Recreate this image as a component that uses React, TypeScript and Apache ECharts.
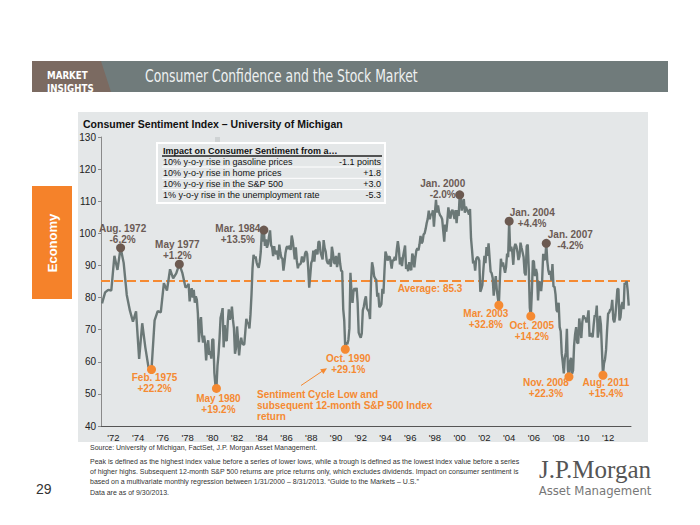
import React, { useEffect, useRef } from "react";
import * as echarts from "echarts";

// ---------- DATA ----------
// Quarterly readings (Feb, May, Aug, Nov) 1971-1977
const quarterlyStartYear = 1971;
const quarterlyStartMonth = 2;
const sentimentQuarterly1971to1977 = [
  78.2, 81.6, 82.4, 82.2,
  93.0, 88.6, 95.5, 90.8,
  80.8, 76.0, 72.5, 75.7,
  60.9, 72.0, 64.5, 58.4,
  57.6, 72.9, 75.8, 75.4,
  84.5, 82.2, 88.8, 86.0,
  87.5, 90.4, 87.6, 83.1,
];
// Monthly readings from Jan 1978
const monthlyStartYear = 1978;
const sentiment1978to1989 = [
  83.7, 84.3, 78.8, 81.6, 82.9, 80.0, 82.4, 78.4, 80.4, 79.3, 75.0, 66.1,
  72.1, 73.9, 68.4, 66.0, 68.1, 65.8, 60.4, 64.5, 66.7, 62.1, 63.3, 61.0,
  67.0, 66.9, 56.5, 52.7, 51.7, 58.7, 62.3, 67.3, 73.7, 75.0, 76.7, 64.5,
  71.4, 66.9, 66.5, 72.4, 76.3, 73.1, 74.1, 77.2, 73.1, 70.3, 62.5, 64.3,
  71.0, 66.5, 62.0, 65.5, 67.5, 65.7, 65.4, 65.4, 69.3, 73.4, 72.1, 71.9,
  70.4, 74.6, 80.8, 89.1, 93.3, 92.2, 92.8, 90.9, 89.9, 89.3, 91.1, 94.2,
  100.1, 97.4, 101.0, 96.1, 98.1, 95.5, 96.6, 99.1, 100.9, 96.3, 95.7, 92.9,
  96.0, 93.7, 93.7, 94.6, 91.8, 96.5, 94.0, 92.4, 92.1, 88.4, 90.9, 93.9,
  95.6, 95.9, 95.1, 96.2, 94.8, 99.3, 97.7, 94.9, 91.9, 95.6, 91.4, 89.1,
  90.4, 90.2, 90.8, 92.8, 91.1, 91.5, 93.7, 94.4, 93.6, 89.3, 83.1, 86.8,
  90.8, 91.6, 94.6, 91.2, 94.8, 94.7, 93.4, 97.4, 97.3, 94.1, 93.0, 91.9,
  97.9, 95.4, 94.3, 91.5, 90.7, 90.6, 92.0, 89.6, 95.8, 93.9, 90.9, 90.5,
];
const sentiment1990to1999 = [
  93.0, 89.5, 91.3, 93.9, 90.6, 88.3, 88.2, 76.4, 72.8, 63.9, 66.0, 65.5,
  66.8, 70.4, 87.7, 81.8, 78.3, 82.1, 82.9, 82.0, 83.0, 78.3, 69.1, 68.2,
  67.5, 68.8, 76.0, 77.2, 79.2, 80.4, 76.6, 76.1, 75.6, 73.3, 85.3, 91.0,
  89.3, 86.6, 85.9, 85.6, 80.3, 81.5, 77.0, 77.3, 77.9, 82.7, 81.2, 88.2,
  94.3, 93.2, 91.5, 92.6, 92.8, 91.2, 89.0, 91.7, 91.5, 92.7, 91.6, 95.1,
  97.6, 95.1, 90.3, 92.5, 89.8, 92.7, 94.4, 96.2, 88.9, 90.2, 88.2, 91.0,
  89.3, 88.5, 93.7, 92.7, 89.4, 92.4, 94.7, 95.3, 94.7, 96.5, 99.2, 96.9,
  97.4, 99.7, 100.0, 101.4, 103.2, 104.5, 107.1, 104.4, 106.0, 105.6, 107.2, 102.1,
  106.6, 110.4, 106.5, 108.7, 106.5, 105.6, 105.2, 104.4, 100.9, 97.4, 102.7, 100.5,
  103.9, 108.1, 105.7, 104.6, 106.8, 107.3, 106.0, 104.5, 107.2, 103.2, 107.2, 105.4,
];
const sentiment2000to2009 = [
  112.0, 111.3, 107.1, 109.2, 110.7, 106.4, 108.3, 107.3, 106.8, 105.8, 107.6, 98.4,
  94.7, 90.6, 91.5, 88.4, 92.0, 92.6, 92.4, 91.5, 81.8, 82.7, 83.9, 88.8,
  93.0, 90.7, 95.7, 93.0, 96.9, 92.4, 88.1, 87.6, 86.1, 80.6, 84.2, 86.7,
  82.4, 79.9, 77.6, 86.0, 92.1, 89.7, 90.9, 89.3, 87.7, 89.6, 93.7, 92.6,
  103.8, 94.4, 95.8, 94.2, 90.2, 95.6, 96.7, 95.9, 94.2, 91.7, 92.8, 97.1,
  95.5, 94.1, 92.6, 87.7, 86.9, 96.0, 96.5, 89.1, 76.9, 74.2, 81.6, 91.5,
  91.2, 86.7, 88.9, 87.4, 79.1, 84.9, 84.7, 82.0, 85.4, 93.6, 92.1, 91.7,
  96.9, 91.3, 88.4, 87.1, 88.3, 85.3, 90.4, 83.4, 83.4, 80.9, 76.1, 75.5,
  78.4, 70.8, 69.5, 62.6, 59.8, 56.4, 61.2, 63.0, 70.3, 57.6, 55.3, 60.1,
  61.2, 56.3, 57.3, 65.1, 68.7, 70.8, 66.0, 65.7, 73.5, 70.6, 67.4, 72.5,
];
const sentiment2010to2013 = [
  74.4, 73.6, 73.6, 72.2, 73.6, 76.0, 67.8, 68.9, 68.2, 67.7, 71.6, 74.5,
  74.2, 77.5, 67.5, 69.8, 74.3, 71.5, 63.7, 55.8, 59.5, 60.8, 63.7, 69.9,
  75.0, 75.3, 76.2, 76.4, 79.3, 73.2, 72.3, 74.3, 78.3, 82.6, 82.7, 72.9,
  73.8, 77.6, 78.6, 76.4, 84.5, 84.1, 85.1, 82.1, 77.5,
];
const averageSentiment = 85.3;
const yearTickValues = [
  1972, 1974, 1976, 1978, 1980, 1982, 1984, 1986, 1988, 1990, 1992,
  1994, 1996, 1998, 2000, 2002, 2004, 2006, 2008, 2010, 2012,
];
const peakDates = [[1972, 8], [1977, 5], [1984, 3], [2000, 1], [2004, 1], [2007, 1]];
const peakNames = ["Aug. 1972", "May 1977", "Mar. 1984", "Jan. 2000", "Jan. 2004", "Jan. 2007"];
const peakReturns = ["-6.2%", "+1.2%", "+13.5%", "-2.0%", "+4.4%", "-4.2%"];
const troughDates = [[1975, 2], [1980, 5], [1990, 10], [2003, 3], [2005, 10], [2008, 11], [2011, 8]];
const troughNames = ["Feb. 1975", "May 1980", "Oct. 1990", "Mar. 2003", "Oct. 2005", "Nov. 2008", "Aug. 2011"];
const troughReturns = ["+22.2%", "+19.2%", "+29.1%", "+32.8%", "+14.2%", "+22.3%", "+15.4%"];
const impactTitle = "Impact on Consumer Sentiment from a…";
const impactDrivers = [
  "10% y-o-y rise in gasoline prices",
  "10% y-o-y rise in home prices",
  "10% y-o-y rise in the S&P 500",
  "1% y-o-y rise in the unemployment rate",
];
const impactEffects = ["-1.1 points", "+1.8", "+3.0", "-5.3"];

// ---------- LAYOUT (positions / styles) ----------
const peakLabelOffsets = [[2, -14], [-2, -14], [-26, 4], [-17, -6], [23, -3], [24, -3]];
const troughLabelOffsets = [[3, 14], [2, 16], [3, 15], [-13, 14], [1, 15], [-23, 11], [3, 13]];

const SANS = '"Liberation Sans", Arial, Helvetica, sans-serif';
const NARROW = '"Liberation Sans Narrow", "DejaVu Sans Condensed", "Liberation Sans", sans-serif';
const ORANGE = "#f58a32";
const BROWN = "#6c5a51";
const LINE_GRAY = "#6b7877";

function buildSeries(): [number, number][] {
  const pts: [number, number][] = [];
  sentimentQuarterly1971to1977.forEach((v, i) => {
    pts.push([quarterlyStartYear + (quarterlyStartMonth - 1 + i * 3) / 12, v]);
  });
  const monthly = [
    ...sentiment1978to1989,
    ...sentiment1990to1999,
    ...sentiment2000to2009,
    ...sentiment2010to2013,
  ];
  monthly.forEach((v, i) => pts.push([monthlyStartYear + i / 12, v]));
  return pts;
}

function lookup(pts: [number, number][], year: number, month: number): [number, number] {
  const t = year + (month - 1) / 12;
  let best = pts[0];
  for (const p of pts) if (Math.abs(p[0] - t) < Math.abs(best[0] - t)) best = p;
  return [best[0], best[1]];
}

function text(x: number, y: number, s: string, o: any = {}) {
  return {
    type: "text",
    x,
    y,
    z: o.z ?? 20,
    silent: true,
    rotation: o.rotation ?? 0,
    scaleX: o.scaleX ?? 1,
    style: {
      text: s,
      fill: o.fill ?? "#222",
      font: `${o.weight ?? "normal"} ${o.size ?? 10}px ${o.family ?? SANS}`,
      textAlign: o.align ?? "left",
      textVerticalAlign: "middle",
      align: o.align ?? "left",
      verticalAlign: "middle",
    },
  };
}

export default function App() {
  const ref = useRef<HTMLDivElement>(null);
  useEffect(() => {
    if (!ref.current) return;
    const chart = echarts.init(ref.current, undefined, { renderer: "svg" });
    const pts = buildSeries();

    const peakData = peakDates.map((d, i) => ({
      value: lookup(pts, d[0], d[1]),
      name: peakNames[i],
      ret: peakReturns[i],
      label: { offset: peakLabelOffsets[i] },
    }));
    const troughData = troughDates.map((d, i) => ({
      value: lookup(pts, d[0], d[1]),
      name: troughNames[i],
      ret: troughReturns[i],
      label: { offset: troughLabelOffsets[i] },
    }));

    const rowYs = [161.5, 172.7, 184, 195];
    const graphics: any[] = [
      // header bar
      { type: "rect", z: -20, silent: true, shape: { x: 32, y: 61, width: 636, height: 31 }, style: { fill: "#707b7b" } },
      { type: "polygon", z: -19, silent: true, shape: { points: [[32, 61], [101, 61], [111, 92], [32, 92]] }, style: { fill: "#7b6a61" } },
      text(47, 75, "MARKET", { fill: "#fff", weight: "bold", size: 11, family: NARROW, z: -18, scaleX: 0.88 }),
      text(47, 88, "INSIGHTS", { fill: "#fff", weight: "bold", size: 11, family: NARROW, z: -18, scaleX: 0.88 }),
      text(145, 77, "Consumer Confidence and the Stock Market", { fill: "#eef1f1", size: 17, family: NARROW, z: -18, scaleX: 0.81 }),
      // panel
      { type: "rect", z: -20, silent: true, shape: { x: 78, y: 112, width: 570, height: 330 }, style: { fill: "#e4e7e8" } },
      // economy tab
      { type: "rect", z: -19, silent: true, shape: { x: 32, y: 186, width: 40, height: 113 }, style: { fill: "#f5822a" } },
      text(52, 243, "Economy", { fill: "#fff", weight: "bold", size: 13, align: "center", rotation: Math.PI / 2 }),
      // chart title
      text(83, 124, "Consumer Sentiment Index – University of Michigan", { fill: "#111", weight: "bold", size: 10.5 }),
      // small marker square
      { type: "rect", z: -5, silent: true, shape: { x: 215, y: 137, width: 5, height: 5 }, style: { fill: "#cfd3d4" } },
      // table
      { type: "rect", z: -5, silent: true, shape: { x: 157, y: 143, width: 228, height: 60 }, style: { fill: "none", stroke: "#ffffff", lineWidth: 2 } },
      text(163, 150.5, impactTitle, { fill: "#111", weight: "bold", size: 9 }),
      { type: "line", z: -4, silent: true, shape: { x1: 162, y1: 156, x2: 382, y2: 156 }, style: { stroke: "#222", lineWidth: 1.5 } },
      { type: "line", z: -4, silent: true, shape: { x1: 162, y1: 167, x2: 382, y2: 167 }, style: { stroke: "#ffffff", lineWidth: 1 } },
      { type: "line", z: -4, silent: true, shape: { x1: 162, y1: 178.3, x2: 382, y2: 178.3 }, style: { stroke: "#ffffff", lineWidth: 1 } },
      { type: "line", z: -4, silent: true, shape: { x1: 162, y1: 189.6, x2: 382, y2: 189.6 }, style: { stroke: "#ffffff", lineWidth: 1 } },
      ...impactDrivers.map((s, i) => text(163, rowYs[i], s, { fill: "#111", size: 9 })),
      ...impactEffects.map((s, i) => text(381, rowYs[i], s, { fill: "#111", size: 9, align: "right" })),
      // average label
      text(430, 288, `Average: ${averageSentiment}`, { fill: ORANGE, weight: "bold", size: 10, align: "center" }),
      // cycle note
      text(257, 394, "Sentiment Cycle Low and", { fill: ORANGE, weight: "bold", size: 10 }),
      text(257, 405, "subsequent 12-month S&P 500 Index", { fill: ORANGE, weight: "bold", size: 10 }),
      text(257, 416, "return", { fill: ORANGE, weight: "bold", size: 10 }),
      { type: "line", z: 20, silent: true, shape: { x1: 301, y1: 385.5, x2: 324, y2: 370 }, style: { stroke: ORANGE, lineWidth: 1 } },
      { type: "polygon", z: 20, silent: true, shape: { points: [[327, 368.3], [323.4, 374.1], [320.2, 369.3]] }, style: { fill: ORANGE } },
      // footnotes
      text(90, 447, "Source: University of Michigan, FactSet, J.P. Morgan Asset Management.", { fill: "#333", size: 7 }),
      text(90, 461, "Peak is defined as the highest index value before a series of lower lows, while a trough is defined as the lowest index value before a series", { fill: "#333", size: 7 }),
      text(90, 471, "of higher highs. Subsequent 12-month S&P 500 returns are price returns only, which excludes dividends. Impact on consumer sentiment is", { fill: "#333", size: 7 }),
      text(90, 481, "based on a multivariate monthly regression between 1/31/2000 – 8/31/2013. “Guide to the Markets – U.S.”", { fill: "#333", size: 7 }),
      text(90, 492, "Data are as of 9/30/2013.", { fill: "#333", size: 7 }),
      text(36, 489, "29", { fill: "#333", size: 14 }),
      // logo
      text(595, 469, "J.P.Morgan", { fill: "#555", size: 25, family: '"Liberation Serif", "DejaVu Serif", serif', align: "center" }),
      text(595, 490, "Asset Management", { fill: "#777", size: 13, family: NARROW, align: "center" }),
    ];

    chart.setOption({
      animation: false,
      backgroundColor: "#ffffff",
      textStyle: { fontFamily: SANS },
      graphic: { elements: graphics },
      grid: { left: 101, right: 69, top: 137, bottom: 99, containLabel: false },
      xAxis: {
        type: "value",
        min: 1971,
        max: 2013.85,
        splitLine: { show: false },
        axisLine: { show: true, lineStyle: { color: "#555", width: 1 } },
        axisTick: { show: false },
        axisLabel: {
          customValues: yearTickValues,
          color: "#222",
          fontSize: 9.5,
          margin: 6,
          fontFamily: SANS,
          formatter: (v: number) => "'" + String(Math.round(v) % 100).padStart(2, "0"),
        },
      },
      yAxis: {
        type: "value",
        min: 40,
        max: 130,
        interval: 10,
        splitLine: { show: false },
        axisLine: { show: true, lineStyle: { color: "#8a8a8a", width: 1 } },
        axisTick: { show: true, length: 3, lineStyle: { color: "#8a8a8a" } },
        axisLabel: { color: "#222", fontSize: 10, margin: 5, fontFamily: SANS },
      },
      series: [
        {
          type: "line",
          data: pts,
          showSymbol: false,
          symbol: "none",
          z: 3,
          lineStyle: { color: LINE_GRAY, width: 2.4 },
          markLine: {
            silent: true,
            symbol: "none",
            label: { show: false },
            lineStyle: { color: ORANGE, width: 2, type: [9, 4] },
            data: [{ yAxis: averageSentiment }],
            z: 2,
          },
        },
        {
          type: "scatter",
          data: peakData,
          symbolSize: 9,
          z: 5,
          itemStyle: { color: BROWN, opacity: 1 },
          label: {
            show: true,
            position: "inside",
            color: "#6b5b55",
            fontWeight: "bold",
            fontSize: 10,
            lineHeight: 11,
            fontFamily: SANS,
            align: "center",
            verticalAlign: "middle",
            formatter: (p: any) => `${p.data.name}\n${p.data.ret}`,
          },
        },
        {
          type: "scatter",
          data: troughData,
          symbolSize: 9,
          z: 5,
          itemStyle: { color: ORANGE, opacity: 1 },
          label: {
            show: true,
            position: "inside",
            color: ORANGE,
            fontWeight: "bold",
            fontSize: 10,
            lineHeight: 11,
            fontFamily: SANS,
            align: "center",
            verticalAlign: "middle",
            formatter: (p: any) => `${p.data.name}\n${p.data.ret}`,
          },
        },
      ],
    });
    return () => chart.dispose();
  }, []);
  return (
    <div
      ref={ref}
      style={{ position: "absolute", left: 0, top: 0, width: 700, height: 525, background: "#fff" }}
    />
  );
}
